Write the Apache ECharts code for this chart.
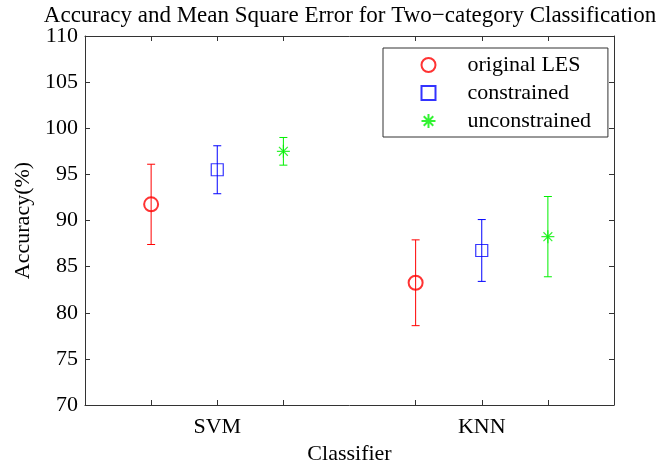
<!DOCTYPE html>
<html>
<head>
<meta charset="utf-8">
<script src="https://cdn.jsdelivr.net/npm/echarts@6/dist/echarts.min.js"></script>
<style>
  html, body { margin: 0; padding: 0; background: #fff; }
  #chart { width: 671px; height: 465px; }
</style>
</head>
<body>
<div id="chart"></div>
<script>
  // data
  var categories = ['SVM', 'KNN'];
  var seriesNames = ['original LES', 'constrained', 'unconstrained'];
  var origMean = [91.75, 83.25];
  var origErr = [4.35, 4.65];
  var consMean = [95.5, 86.75];
  var consErr = [2.6, 3.35];
  var uncMean = [97.5, 88.25];
  var uncErr = [1.5, 4.35];
  var yTicks = [70, 75, 80, 85, 90, 95, 100, 105, 110];

  var groupPos = [1, 2];
  var offsets = [-0.25, 0, 0.25];
  var colors = ['#ff0000', '#0000ff', '#00f000'];
  var symbols = [
    'emptyCircle',
    'path://M0 0L10 0L10 10L0 10Z',
    'path://M5 0L5 10M0 5L10 5M1.6 1.6L8.4 8.4M1.6 8.4L8.4 1.6'
  ];
  var symbolSizes = [14, 12, 13];
  var means = [origMean, consMean, uncMean];
  var errs = [origErr, consErr, uncErr];

  var tickPos = [];
  groupPos.forEach(function (g) {
    offsets.forEach(function (o) { tickPos.push(g + o); });
  });

  var font = 'Liberation Serif';

  var series = [];
  for (var s = 0; s < 3; s++) {
    var pts = [], bars = [];
    for (var i = 0; i < categories.length; i++) {
      var x = groupPos[i] + offsets[s];
      pts.push([x, means[s][i]]);
      bars.push([x, means[s][i] - errs[s][i], means[s][i] + errs[s][i]]);
    }
    series.push({
      name: seriesNames[s],
      type: 'scatter',
      symbol: symbols[s],
      symbolSize: symbolSizes[s],
      z: 2,
      itemStyle: s === 0
        ? { color: colors[s], borderColor: colors[s], borderWidth: 1.2 }
        : { color: 'none', borderColor: colors[s], borderWidth: 1.2 },
      data: pts
    });
    series.push({
      name: seriesNames[s] + ' err',
      type: 'custom',
      z: 3,
      silent: true,
      data: bars,
      renderItem: (function (col) {
        return function (params, api) {
          var top = api.coord([api.value(0), api.value(2)]);
          var bot = api.coord([api.value(0), api.value(1)]);
          var cap = 4;
          var st = { stroke: col, lineWidth: 1 };
          return {
            type: 'group',
            children: [
              { type: 'line', shape: { x1: top[0], y1: top[1], x2: bot[0], y2: bot[1] }, style: st },
              { type: 'line', shape: { x1: top[0] - cap, y1: top[1], x2: top[0] + cap, y2: top[1] }, style: st },
              { type: 'line', shape: { x1: bot[0] - cap, y1: bot[1], x2: bot[0] + cap, y2: bot[1] }, style: st }
            ]
          };
        };
      })(colors[s])
    });
  }

  var axisLine = { show: true, onZero: false, lineStyle: { color: '#333', width: 1 } };
  var tick = { show: true, inside: true, length: 5, lineStyle: { color: '#333' } };

  var chart = echarts.init(document.getElementById('chart'));
  chart.setOption({
    animation: false,
    title: {
      text: 'Accuracy and Mean Square Error for Two\u2212category Classification',
      left: 345,
      textAlign: 'center',
      top: -1,
      textStyle: { fontFamily: font, fontSize: 23, fontWeight: 'normal', color: '#000' }
    },
    legend: {
      data: seriesNames,
      orient: 'vertical',
      left: 383,
      top: 48,
      padding: [6, 17, 5, 36],
      itemWidth: 68,
      itemHeight: 14,
      itemGap: 6,
      borderColor: '#333',
      borderWidth: 1,
      textStyle: { fontFamily: font, fontSize: 22, color: '#000' }
    },
    grid: { left: 85, right: 57, top: 36, bottom: 60, outerBoundsMode: 'none' },
    xAxis: [{
      type: 'value',
      min: 0.5,
      max: 2.5,
      name: 'Classifier',
      nameLocation: 'middle',
      nameGap: 36,
      nameTextStyle: { fontFamily: font, fontSize: 22, color: '#000' },
      axisLine: axisLine,
      axisTick: Object.assign({ customValues: tickPos }, tick),
      splitLine: { show: false },
      axisLabel: {
        customValues: groupPos,
        margin: 11,
        fontFamily: font,
        fontSize: 22,
        color: '#000',
        formatter: function (v) { return categories[groupPos.indexOf(v)] || ''; }
      }
    }, {
      type: 'value',
      position: 'top',
      min: 0.5,
      max: 2.5,
      axisLine: axisLine,
      axisTick: Object.assign({ customValues: tickPos }, tick),
      axisLabel: { show: false },
      splitLine: { show: false }
    }],
    yAxis: [{
      type: 'value',
      min: yTicks[0],
      max: yTicks[yTicks.length - 1],
      interval: 5,
      name: 'Accuracy(%)',
      nameLocation: 'middle',
      nameGap: 51,
      nameTextStyle: { fontFamily: font, fontSize: 22, color: '#000' },
      axisLine: axisLine,
      axisTick: tick,
      splitLine: { show: false },
      axisLabel: { margin: 7, fontFamily: font, fontSize: 22, color: '#000' }
    }, {
      type: 'value',
      position: 'right',
      min: yTicks[0],
      max: yTicks[yTicks.length - 1],
      interval: 5,
      axisLine: axisLine,
      axisTick: tick,
      axisLabel: { show: false },
      splitLine: { show: false }
    }],
    series: series
  });
</script>
</body>
</html>
